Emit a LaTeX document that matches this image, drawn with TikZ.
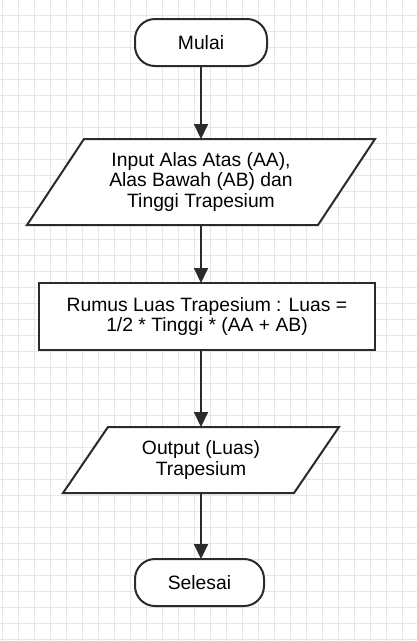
\documentclass[tikz,border=0pt]{standalone}
\usepackage{fontspec}
\setmainfont{Liberation Sans}
\usetikzlibrary{arrows.meta,calc,backgrounds}
\definecolor{gridc}{HTML}{E6E6E6}
\definecolor{linec}{HTML}{2B2B2B}
\begin{document}
\begin{tikzpicture}[x=1pt,y=-1pt,
  every node/.style={font=\fontsize{19.3}{20.5}\selectfont, align=center, text=black, outer sep=0pt},
  term/.style={draw=linec, line width=2pt, rounded corners=20pt, fill=white, minimum height=47pt, inner sep=0pt},
  proc/.style={draw=linec, line width=2pt, fill=white, minimum width=336pt, minimum height=67pt, inner sep=0pt},
  iobox/.style={inner sep=0pt},
  ioshape/.style={draw=linec, line width=2pt, fill=white, line join=miter},
  gridline/.style={draw=gridc, line width=1pt},
  conn/.style={draw=linec, line width=2pt, -{Triangle[length=15pt,width=14pt]}}]
\useasboundingbox (0,0) rectangle (417,641);
\begin{scope}[on background layer]
  \fill[white] (0,0) rectangle (417,641);
  \foreach \x in {2,18,...,418} \draw[gridline] (\x,0) -- (\x,641);
  \foreach \y in {15,31,...,641} \draw[gridline] (0,\y) -- (417,\y);
\end{scope}
% nodes
\node[term, minimum width=132pt] (start) at (201,42.5) {Mulai};
\node[iobox, minimum width=348pt, minimum height=86pt] (in) at (201,182) {Input Alas Atas (AA),\\Alas Bawah (AB) dan\\Tinggi Trapesium};
\node[proc] (calc) at (207,316.5) {Rumus Luas Trapesium : Luas =\\1/2 * Tinggi * (AA + AB)};
\node[iobox, minimum width=276pt, minimum height=66pt] (out) at (201,460) {Output (Luas)\\Trapesium};
\node[term, minimum width=129pt] (end) at (199.5,582.5) {Selesai};
\begin{scope}[on background layer]
  \path[ioshape] ($(in.north west)+(57,0)$) -- (in.north east) -- ($(in.south east)+(-57,0)$) -- (in.south west) -- cycle;
  \path[ioshape] ($(out.north west)+(45,0)$) -- (out.north east) -- ($(out.south east)+(-45,0)$) -- (out.south west) -- cycle;
\end{scope}
% connectors
\draw[conn] (start.south) -- (in.north);
\draw[conn] (in.south) -- (in.south |- calc.north);
\draw[conn] (out.north |- calc.south) -- (out.north);
\draw[conn] (out.south) -- (out.south |- end.north);
\end{tikzpicture}
\end{document}
